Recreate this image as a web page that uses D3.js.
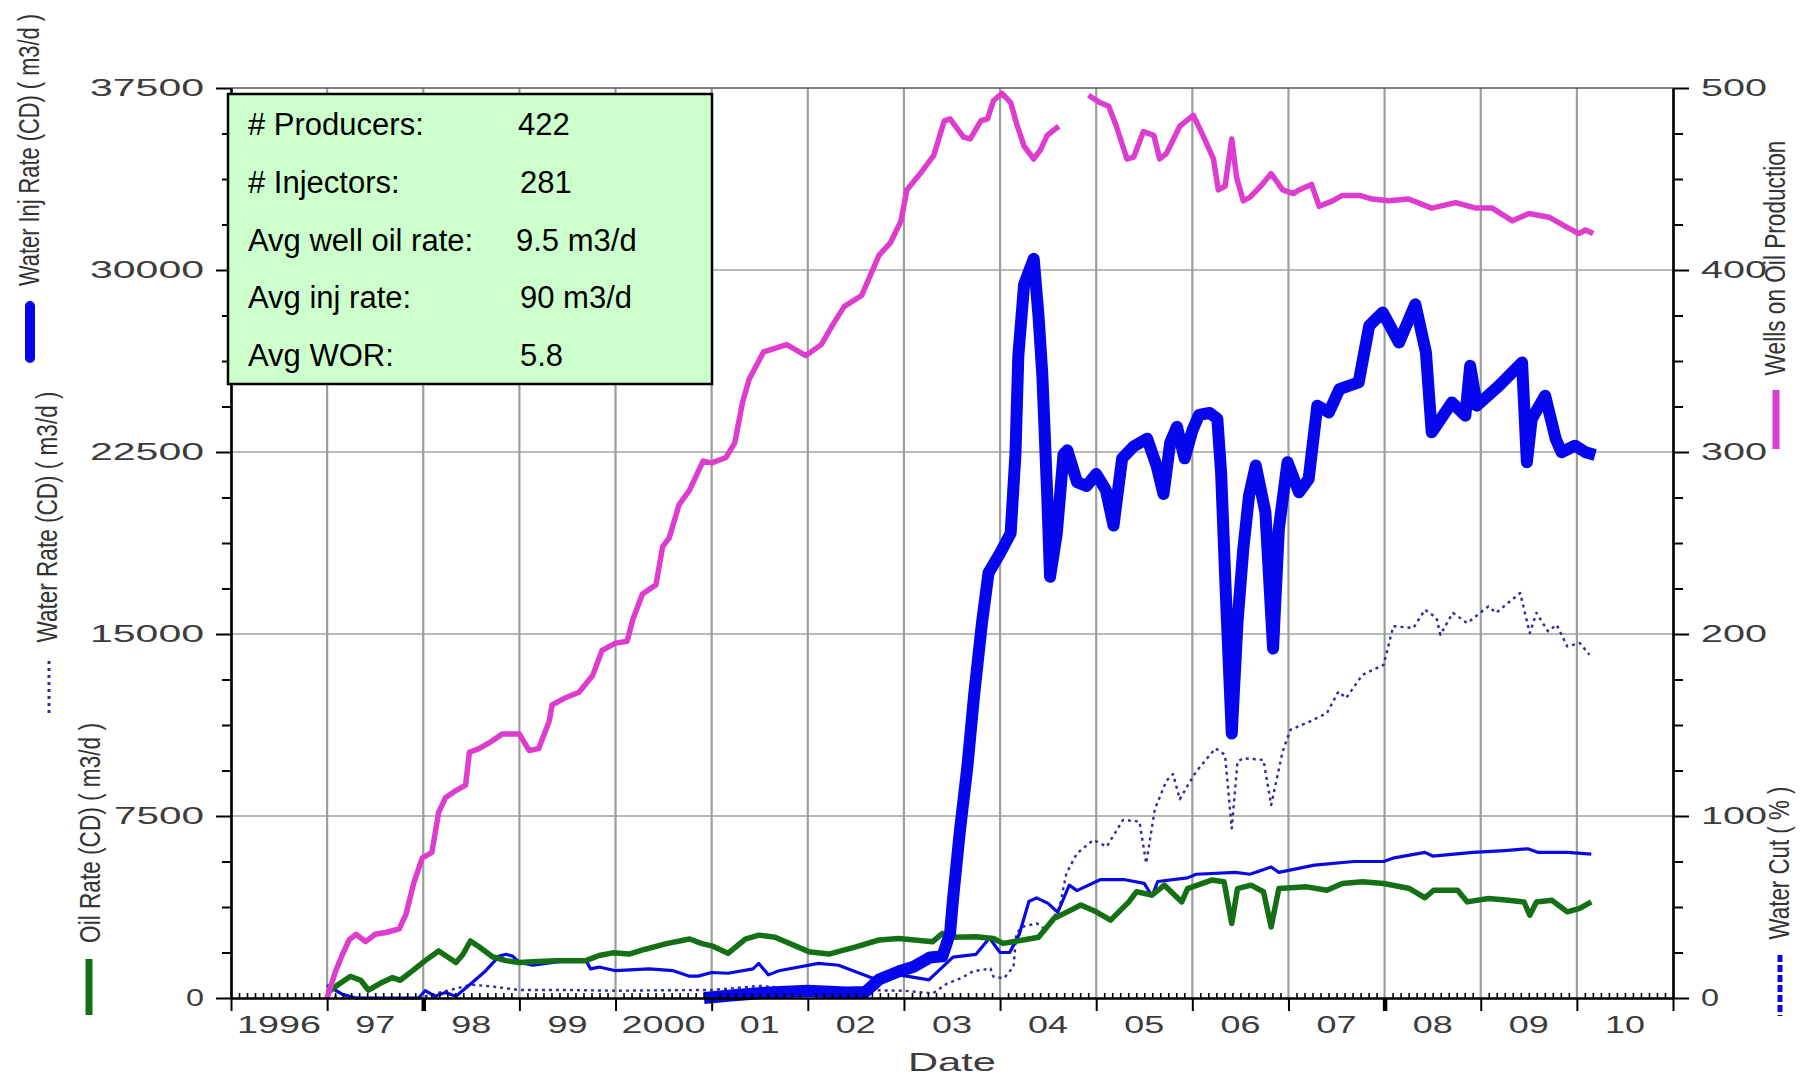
<!DOCTYPE html>
<html><head><meta charset="utf-8">
<script src="https://cdn.jsdelivr.net/npm/d3@7"></script>
<style>body{margin:0;background:#fff}svg{display:block}</style>
</head><body>
<svg id="chart" width="1814" height="1077"></svg>
<script>
// ---------- data ----------
const leftTicks = [0, 7500, 15000, 22500, 30000, 37500];
const rightTicks = [0, 100, 200, 300, 400, 500];
const yearStarts = d3.range(1996, 2012);
const yearLabels = ["1996","97","98","99","2000","01","02","03","04","05","06","07","08","09","10"];
const statLabels = ["# Producers:", "# Injectors:", "Avg well oil rate:", "Avg inj rate:", "Avg WOR:"];
const statValues = ["422", "281", "9.5 m3/d", "90 m3/d", "5.8"];

// Wells on Oil Production (right axis, count) ; null = gap
const wellsOnProd = [[1997.0,0],[1997.09,15],[1997.16,24],[1997.23,32],[1997.3,35],[1997.4,31],[1997.5,35],[1997.61,36],[1997.75,38],[1997.82,46],[1997.9,63],[1997.99,77],[1998.09,80],[1998.16,102],[1998.23,110],[1998.34,114],[1998.44,117],[1998.48,135],[1998.58,137],[1998.68,140],[1998.82,145],[1999.0,145],[1999.1,136],[1999.2,137],[1999.31,152],[1999.34,161],[1999.48,165],[1999.62,168],[1999.76,177],[1999.86,191],[2000.0,195],[2000.12,196],[2000.18,208],[2000.28,222],[2000.42,227],[2000.49,248],[2000.56,253],[2000.66,271],[2000.77,279],[2000.91,295],[2001.0,294],[2001.15,297],[2001.24,305],[2001.32,327],[2001.39,340],[2001.54,355],[2001.78,359],[2001.98,353],[2002.14,359],[2002.26,370],[2002.38,380],[2002.56,386],[2002.74,408],[2002.86,415],[2002.97,427],[2003.03,444],[2003.17,453],[2003.31,463],[2003.42,482],[2003.48,483],[2003.62,473],[2003.69,472],[2003.8,482],[2003.87,483],[2003.93,493],[2004.02,497],[2004.11,492],[2004.18,479],[2004.25,468],[2004.35,461],[2004.42,466],[2004.49,474],[2004.61,479],null,[2004.92,496],[2005.04,492],[2005.13,490],[2005.21,479],[2005.32,461],[2005.39,462],[2005.49,476],[2005.6,474],[2005.66,461],[2005.73,464],[2005.87,479],[2006.01,485],[2006.11,474],[2006.22,461],[2006.27,444],[2006.34,446],[2006.41,472],[2006.46,451],[2006.53,438],[2006.6,440],[2006.71,446],[2006.82,453],[2006.94,444],[2007.05,442],[2007.11,444],[2007.24,447],[2007.32,435],[2007.46,438],[2007.56,441],[2007.74,441],[2007.87,439],[2008.04,438],[2008.25,439],[2008.49,434],[2008.74,437],[2008.95,434],[2009.12,434],[2009.33,427],[2009.5,431],[2009.71,429],[2009.88,424],[2010.02,420],[2010.09,422],[2010.17,420]];

// Oil Rate (CD) m3/d (left axis)
const oilRate = [[1997.0,200],[1997.09,480],[1997.24,890],[1997.35,730],[1997.43,320],[1997.57,640],[1997.68,840],[1997.76,730],[1997.89,1130],[1998.02,1540],[1998.16,1940],[1998.34,1460],[1998.41,1780],[1998.49,2350],[1998.58,2110],[1998.72,1700],[1998.86,1540],[1999.0,1460],[1999.14,1490],[1999.38,1540],[1999.69,1540],[1999.83,1750],[1999.97,1860],[2000.14,1810],[2000.32,2020],[2000.53,2240],[2000.77,2430],[2000.9,2240],[2001.0,2150],[2001.17,1840],[2001.35,2430],[2001.49,2590],[2001.66,2500],[2002.01,1910],[2002.22,1810],[2002.5,2110],[2002.74,2390],[2002.95,2450],[2003.3,2320],[2003.4,2660],[2003.51,2500],[2003.75,2520],[2003.93,2450],[2004.03,2250],[2004.24,2390],[2004.4,2500],[2004.56,3280],[2004.7,3550],[2004.84,3830],[2005.0,3550],[2005.15,3210],[2005.34,3960],[2005.42,4380],[2005.58,4240],[2005.71,4650],[2005.89,3960],[2005.95,4510],[2006.2,4860],[2006.33,4790],[2006.41,3070],[2006.47,4510],[2006.61,4650],[2006.74,4380],[2006.82,2930],[2006.9,4510],[2007.19,4580],[2007.4,4440],[2007.56,4720],[2007.77,4790],[2007.99,4720],[2008.26,4510],[2008.42,4130],[2008.51,4440],[2008.76,4440],[2008.86,3960],[2009.08,4100],[2009.29,4030],[2009.45,3960],[2009.51,3410],[2009.58,3960],[2009.74,4030],[2009.9,3550],[2010.03,3690],[2010.15,3960]];

// Water Inj Rate (CD) m3/d (left axis)
const waterInjRate = [[2000.92,0],[2001.2,100],[2001.6,230],[2002.0,300],[2002.4,230],[2002.6,250],[2002.74,760],[2002.95,1100],[2003.1,1290],[2003.27,1670],[2003.4,1720],[2003.48,2670],[2003.51,4050],[2003.58,6810],[2003.66,9530],[2003.73,12480],[2003.81,15400],[2003.88,17520],[2004.0,18330],[2004.11,19150],[2004.16,22400],[2004.19,26470],[2004.25,29400],[2004.35,30460],[2004.4,28100],[2004.44,25650],[2004.49,20770],[2004.52,17360],[2004.59,19150],[2004.66,22400],[2004.7,22570],[2004.8,21260],[2004.9,21100],[2005.0,21590],[2005.1,20940],[2005.18,19470],[2005.27,22240],[2005.39,22730],[2005.53,23050],[2005.63,21910],[2005.7,20770],[2005.77,22890],[2005.84,23540],[2005.92,22240],[2006.0,23380],[2006.07,24030],[2006.18,24110],[2006.26,23870],[2006.3,21590],[2006.35,16500],[2006.41,10900],[2006.47,15500],[2006.53,18500],[2006.59,20700],[2006.66,21940],[2006.76,20020],[2006.84,14400],[2006.9,19330],[2006.99,22080],[2007.11,20840],[2007.21,21390],[2007.3,24410],[2007.42,24130],[2007.53,25090],[2007.73,25370],[2007.84,27700],[2007.98,28250],[2008.15,27010],[2008.32,28590],[2008.43,26600],[2008.49,23310],[2008.7,24540],[2008.84,23990],[2008.89,26050],[2008.96,24410],[2009.19,25230],[2009.43,26190],[2009.48,22080],[2009.53,23860],[2009.67,24820],[2009.78,23040],[2009.84,22490],[2009.98,22760],[2010.09,22490],[2010.19,22380]];

// Water Rate (CD) m3/d (left axis)
const waterRate = [[1997.0,100],[1997.15,0],[1997.95,0],[1998.1,150],[1998.3,350],[1998.5,550],[1998.7,480],[1999.0,330],[1999.5,330],[2000.0,300],[2000.5,320],[2001.0,330],[2001.5,500],[2001.7,430],[2002.0,380],[2002.5,330],[2003.0,300],[2003.3,190],[2003.45,600],[2003.6,830],[2003.72,1100],[2003.9,1220],[2003.93,880],[2004.04,810],[2004.14,1290],[2004.17,2670],[2004.24,2940],[2004.38,3080],[2004.48,2800],[2004.62,3760],[2004.69,5140],[2004.8,5960],[2004.97,6510],[2005.11,6240],[2005.28,7340],[2005.45,7270],[2005.52,5550],[2005.61,7780],[2005.73,8950],[2005.8,9230],[2005.87,8190],[2005.97,8880],[2006.04,9330],[2006.24,10290],[2006.34,10020],[2006.41,6990],[2006.47,9740],[2006.53,9880],[2006.74,9810],[2006.82,7950],[2006.94,10160],[2007.02,11050],[2007.22,11390],[2007.4,11740],[2007.52,12630],[2007.6,12360],[2007.77,13320],[2007.99,13730],[2008.09,15320],[2008.3,15250],[2008.42,16000],[2008.54,15660],[2008.58,14970],[2008.71,15870],[2008.86,15450],[2009.08,16140],[2009.16,15870],[2009.41,16690],[2009.51,15040],[2009.58,15870],[2009.7,15110],[2009.79,15380],[2009.9,14490],[2010.03,14630],[2010.13,14150]];

// Water Cut % (right axis)
const waterCut = [[1997.0,7],[1997.16,2],[1997.3,0],[1997.95,0],[1998.02,4],[1998.12,1],[1998.23,3],[1998.34,1],[1998.51,8.5],[1998.65,15],[1998.79,23],[1998.86,24],[1998.93,23],[1999.0,19.5],[1999.14,18],[1999.41,20],[1999.69,21],[1999.74,16],[1999.83,17],[2000.0,15],[2000.35,16],[2000.6,15],[2000.77,12],[2000.86,12],[2001.0,14],[2001.17,13.6],[2001.43,16],[2001.49,19],[2001.59,12.7],[2001.7,15],[2002.11,19],[2002.32,18],[2002.67,11],[2002.95,12.7],[2003.26,10],[2003.51,22.5],[2003.75,24],[2003.89,33],[2004.0,25],[2004.1,25],[2004.2,35],[2004.3,53],[2004.38,55],[2004.5,52],[2004.6,47],[2004.72,62],[2004.8,59],[2005.04,65],[2005.3,65],[2005.5,63],[2005.58,56],[2005.64,64],[2005.95,66],[2006.04,68],[2006.45,69],[2006.6,68],[2006.82,72],[2006.9,69],[2007.27,73],[2007.68,75],[2007.99,75],[2008.1,77],[2008.42,80],[2008.5,78],[2008.92,80],[2009.25,81],[2009.49,82],[2009.6,80],[2009.9,80],[2010.15,79]];

// ---------- layout ----------
const svg = d3.select("#chart");
const L = 231, R = 1673, T = 88, B = 998;
const x = d3.scaleLinear().domain([1996, 2011]).range([L, R]);
const yL = d3.scaleLinear().domain([0, 37500]).range([B, T]);
const yR = d3.scaleLinear().domain([0, 500]).range([B, T]);

svg.append("rect").attr("width", 1814).attr("height", 1077).attr("fill", "#fff");

const tickFont = "'Liberation Sans', Arial, sans-serif";
const narrowFont = "'Liberation Sans Narrow', 'Liberation Sans', Arial, sans-serif";
const tickColor = "#3c3c3c";

// gridlines
const grid = svg.append("g");
grid.selectAll("line.h").data(leftTicks.filter(d => d > 0 && d < 37500)).join("line")
  .attr("x1", L).attr("x2", R).attr("y1", d => yL(d)).attr("y2", d => yL(d))
  .attr("stroke", "#9ea59e").attr("stroke-width", 1.6);
grid.selectAll("line.v").data(yearStarts.filter(d => d > 1996 && d < 2011)).join("line")
  .attr("x1", d => x(d)).attr("x2", d => x(d)).attr("y1", T).attr("y2", B)
  .attr("stroke", "#98a198").attr("stroke-width", 2.2);
// top frame
svg.append("line").attr("x1", L).attr("x2", R).attr("y1", T).attr("y2", T)
  .attr("stroke", "#555").attr("stroke-width", 1.6);

// ---------- series ----------
const lineL = d3.line().defined(d => d !== null).x(d => x(d[0])).y(d => yL(d[1]));
const lineR = d3.line().defined(d => d !== null).x(d => x(d[0])).y(d => yR(d[1]));

const series = svg.append("g").attr("fill", "none").attr("stroke-linejoin", "round");
series.append("path").datum(waterRate).attr("d", lineL)
  .attr("stroke", "#2c2ca0").attr("stroke-width", 2.4).attr("stroke-dasharray", "3,4");
series.append("path").datum(waterCut).attr("d", lineR)
  .attr("stroke", "#0a0ae0").attr("stroke-width", 3.2);
series.append("path").datum(oilRate).attr("d", lineL)
  .attr("stroke", "#157015").attr("stroke-width", 5.5);
series.append("path").datum(waterInjRate).attr("d", lineL)
  .attr("stroke", "#0505ee").attr("stroke-width", 12);
series.append("path").datum(wellsOnProd).attr("d", lineR)
  .attr("stroke", "#dd3ccf").attr("stroke-width", 5.5);

// ---------- axes ----------
function styleAxis(g) {
  g.select(".domain").attr("stroke", "#000").attr("stroke-width", 2.2);
  g.selectAll(".tick line").attr("stroke", "#000").attr("stroke-width", 2);
}
// left
const leftMinor = d3.range(0, 37501, 1875).filter(d => d % 7500 !== 0);
svg.append("g").attr("transform", `translate(${L},0)`)
  .call(d3.axisLeft(yL).tickValues(leftMinor).tickSize(9).tickSizeOuter(0).tickFormat(""))
  .call(styleAxis);
const gl = svg.append("g").attr("transform", `translate(${L},0)`)
  .call(d3.axisLeft(yL).tickValues(leftTicks).tickSize(15).tickSizeOuter(0).tickPadding(12).tickFormat(d3.format("d")))
  .call(styleAxis);
gl.selectAll("text").attr("font-family", tickFont).attr("font-size", 23).attr("fill", tickColor)
  .attr("textLength", function(d){ return String(d).length * 24 - 6; }).attr("lengthAdjust", "spacingAndGlyphs");

// right
const rightMinor = d3.range(0, 501, 25).filter(d => d % 100 !== 0);
svg.append("g").attr("transform", `translate(${R},0)`)
  .call(d3.axisRight(yR).tickValues(rightMinor).tickSize(10).tickSizeOuter(0).tickFormat(""))
  .call(styleAxis);
const gr = svg.append("g").attr("transform", `translate(${R},0)`)
  .call(d3.axisRight(yR).tickValues(rightTicks).tickSize(16).tickSizeOuter(0).tickPadding(12).tickFormat(d3.format("d")))
  .call(styleAxis);
gr.selectAll("text").attr("font-family", tickFont).attr("font-size", 23).attr("fill", tickColor)
  .attr("textLength", function(d){ return String(d).length * 24 - 6; }).attr("lengthAdjust", "spacingAndGlyphs");

// bottom
const months = d3.range(1996, 2011, 1/12).filter(d => Math.abs(d - Math.round(d)) > 1e-6);
svg.append("g").attr("transform", `translate(0,${B})`)
  .call(d3.axisTop(x).tickValues(months).tickSize(5).tickSizeOuter(0).tickFormat(""))
  .call(styleAxis)
  .selectAll(".tick line").attr("stroke-width", 1.6);
const gb = svg.append("g").attr("transform", `translate(0,${B})`)
  .call(d3.axisBottom(x).tickValues(yearStarts).tickSize(13).tickSizeOuter(0).tickFormat(""))
  .call(styleAxis);
gb.selectAll(".tick line").attr("stroke-width", d => (d === 1998 || d === 2008) ? 4.5 : 2);

svg.append("g").selectAll("text").data(yearLabels).join("text")
  .attr("x", (d, i) => x(1996 + i + 0.5)).attr("y", 1024).attr("dy", "0.36em")
  .attr("text-anchor", "middle").attr("font-family", tickFont).attr("font-size", 24).attr("fill", tickColor)
  .attr("textLength", d => d.length * 22 - 4).attr("lengthAdjust", "spacingAndGlyphs")
  .text(d => d);

svg.append("text").attr("x", 952).attr("y", 1062).attr("dy", "0.36em").attr("text-anchor", "middle")
  .attr("font-family", tickFont).attr("font-size", 25).attr("fill", tickColor)
  .attr("textLength", 88).attr("lengthAdjust", "spacingAndGlyphs").text("Date");

// ---------- axis titles with legend swatches ----------
// Condensed look: choose a font size whose natural length fits, then stretch glyph height.
function vTitle(txt, cx, cy, len) {
  const capSize = 29;
  const t = svg.append("text").attr("text-anchor", "middle")
    .attr("font-family", narrowFont).attr("font-size", capSize).attr("fill", "#333").text(txt);
  const natural = t.node().getComputedTextLength();
  const fs = Math.min(capSize, capSize * len / natural);
  const k = capSize / fs;
  t.attr("font-size", fs).attr("dy", "0.36em")
   .attr("transform", `translate(${cx},${cy}) rotate(-90) scale(1,${k})`);
}
vTitle("Water Inj Rate (CD) ( m3/d )", 29, 150, 272);
vTitle("Water Rate (CD) ( m3/d )", 47, 517, 251);
vTitle("Oil Rate (CD) ( m3/d )", 90, 833, 220);
vTitle("Wells on Oil Production", 1775, 258, 235);
vTitle("Water Cut ( % )", 1779, 863, 153);

const sw = svg.append("g").attr("fill", "none");
sw.append("line").attr("x1", 30).attr("x2", 30).attr("y1", 306).attr("y2", 358)
  .attr("stroke", "#0505ee").attr("stroke-width", 10).attr("stroke-linecap", "round");
sw.append("line").attr("x1", 49).attr("x2", 49).attr("y1", 661).attr("y2", 716)
  .attr("stroke", "#2c2ca0").attr("stroke-width", 3).attr("stroke-dasharray", "3,4");
sw.append("line").attr("x1", 89).attr("x2", 89).attr("y1", 959).attr("y2", 1015)
  .attr("stroke", "#157015").attr("stroke-width", 7);
sw.append("line").attr("x1", 1776).attr("x2", 1776).attr("y1", 390).attr("y2", 449)
  .attr("stroke", "#dd3ccf").attr("stroke-width", 7);
sw.append("line").attr("x1", 1780).attr("x2", 1780).attr("y1", 955).attr("y2", 1016)
  .attr("stroke", "#0a0ae0").attr("stroke-width", 5).attr("stroke-dasharray", "7,3");

// ---------- stats box ----------
const box = svg.append("g");
box.append("rect").attr("x", 228).attr("y", 94).attr("width", 484).attr("height", 290)
  .attr("fill", "#ccffcc").attr("stroke", "#000").attr("stroke-width", 2.5);
const rowY = [124, 182, 240, 297, 355];
box.selectAll("text.l").data(statLabels).join("text")
  .attr("x", 248).attr("y", (d, i) => rowY[i]).attr("dy", "0.36em")
  .attr("font-family", tickFont).attr("font-size", 31).attr("fill", "#000").text(d => d);
const valX = [518, 520, 516, 520, 520];
box.selectAll("text.v").data(statValues).join("text")
  .attr("x", (d, i) => valX[i]).attr("y", (d, i) => rowY[i]).attr("dy", "0.36em")
  .attr("font-family", tickFont).attr("font-size", 31).attr("fill", "#000").text(d => d);
</script>
</body></html>
